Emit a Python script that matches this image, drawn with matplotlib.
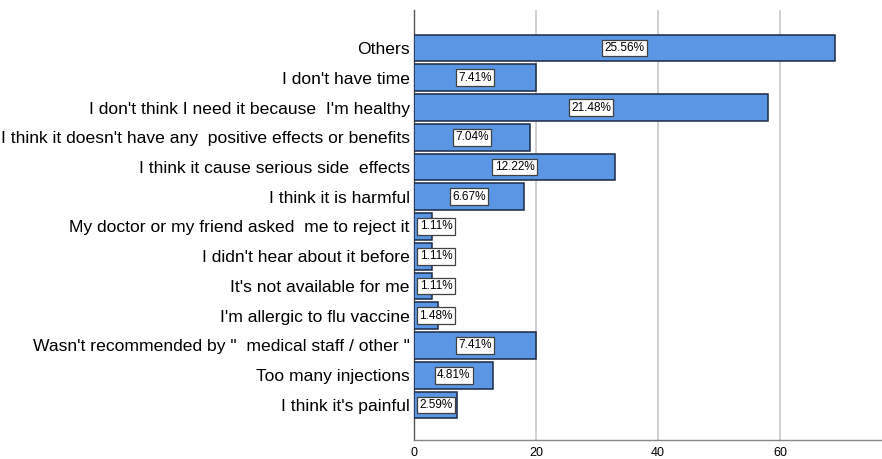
import numpy as np
import matplotlib.pyplot as plt

plt.rcParams['font.family'] = ['Liberation Sans', 'DejaVu Sans']

reasons = [
    "Others",
    "I don't have time",
    "I don't think I need it because  I'm healthy",
    "I think it doesn't have any  positive effects or benefits",
    "I think it cause serious side  effects",
    "I think it is harmful",
    "My doctor or my friend asked  me to reject it",
    "I didn't hear about it before",
    "It's not available for me",
    "I'm allergic to flu vaccine",
    "Wasn't recommended by \"  medical staff / other \"",
    "Too many injections",
    "I think it's painful",
]
counts = [69, 20, 58, 19, 33, 18, 3, 3, 3, 4, 20, 13, 7]
percent_labels = ["25.56%", "7.41%", "21.48%", "7.04%", "12.22%", "6.67%",
                  "1.11%", "1.11%", "1.11%", "1.48%", "7.41%", "4.81%", "2.59%"]
x_ticks = [0, 20, 40, 60]

fig = plt.figure(figsize=(8.82, 4.59), dpi=100)
ax = fig.add_axes([414 / 882, 19 / 459, 468 / 882, 430 / 459])

y = np.arange(len(reasons))
ax.barh(y, counts, height=0.9, color='#5a96e3', edgecolor='#1c2a45', linewidth=1.1, zorder=3)

for yi, c, lab in zip(y, counts, percent_labels):
    # keep the label box inside the axis for short bars
    xpos = max(c / 2, 3.6)
    ax.text(xpos, yi, lab, ha='center', va='center', fontsize=8.5, zorder=4,
            bbox=dict(boxstyle='square,pad=0.2', facecolor='white', edgecolor='#404040', linewidth=0.9))

ax.set_yticks(y)
ax.set_yticklabels(reasons, fontsize=12.6)
ax.set_ylim(len(reasons) - 1 + 1.18, -1.28)
ax.set_xlim(0, 76.7)
ax.set_xticks(x_ticks)
ax.set_xticklabels([str(t) for t in x_ticks], fontsize=9)
ax.tick_params(axis='y', length=0, pad=3)
ax.tick_params(axis='x', length=0, pad=5)

ax.grid(axis='x', color='#c8c8c8', linewidth=1.2, zorder=0)
for side in ['top', 'right']:
    ax.spines[side].set_visible(False)
ax.spines['left'].set_color('#555555')
ax.spines['bottom'].set_color('#888888')
ax.spines['left'].set_linewidth(1.0)
ax.spines['bottom'].set_linewidth(1.0)

fig.savefig('out.png', dpi=100)
